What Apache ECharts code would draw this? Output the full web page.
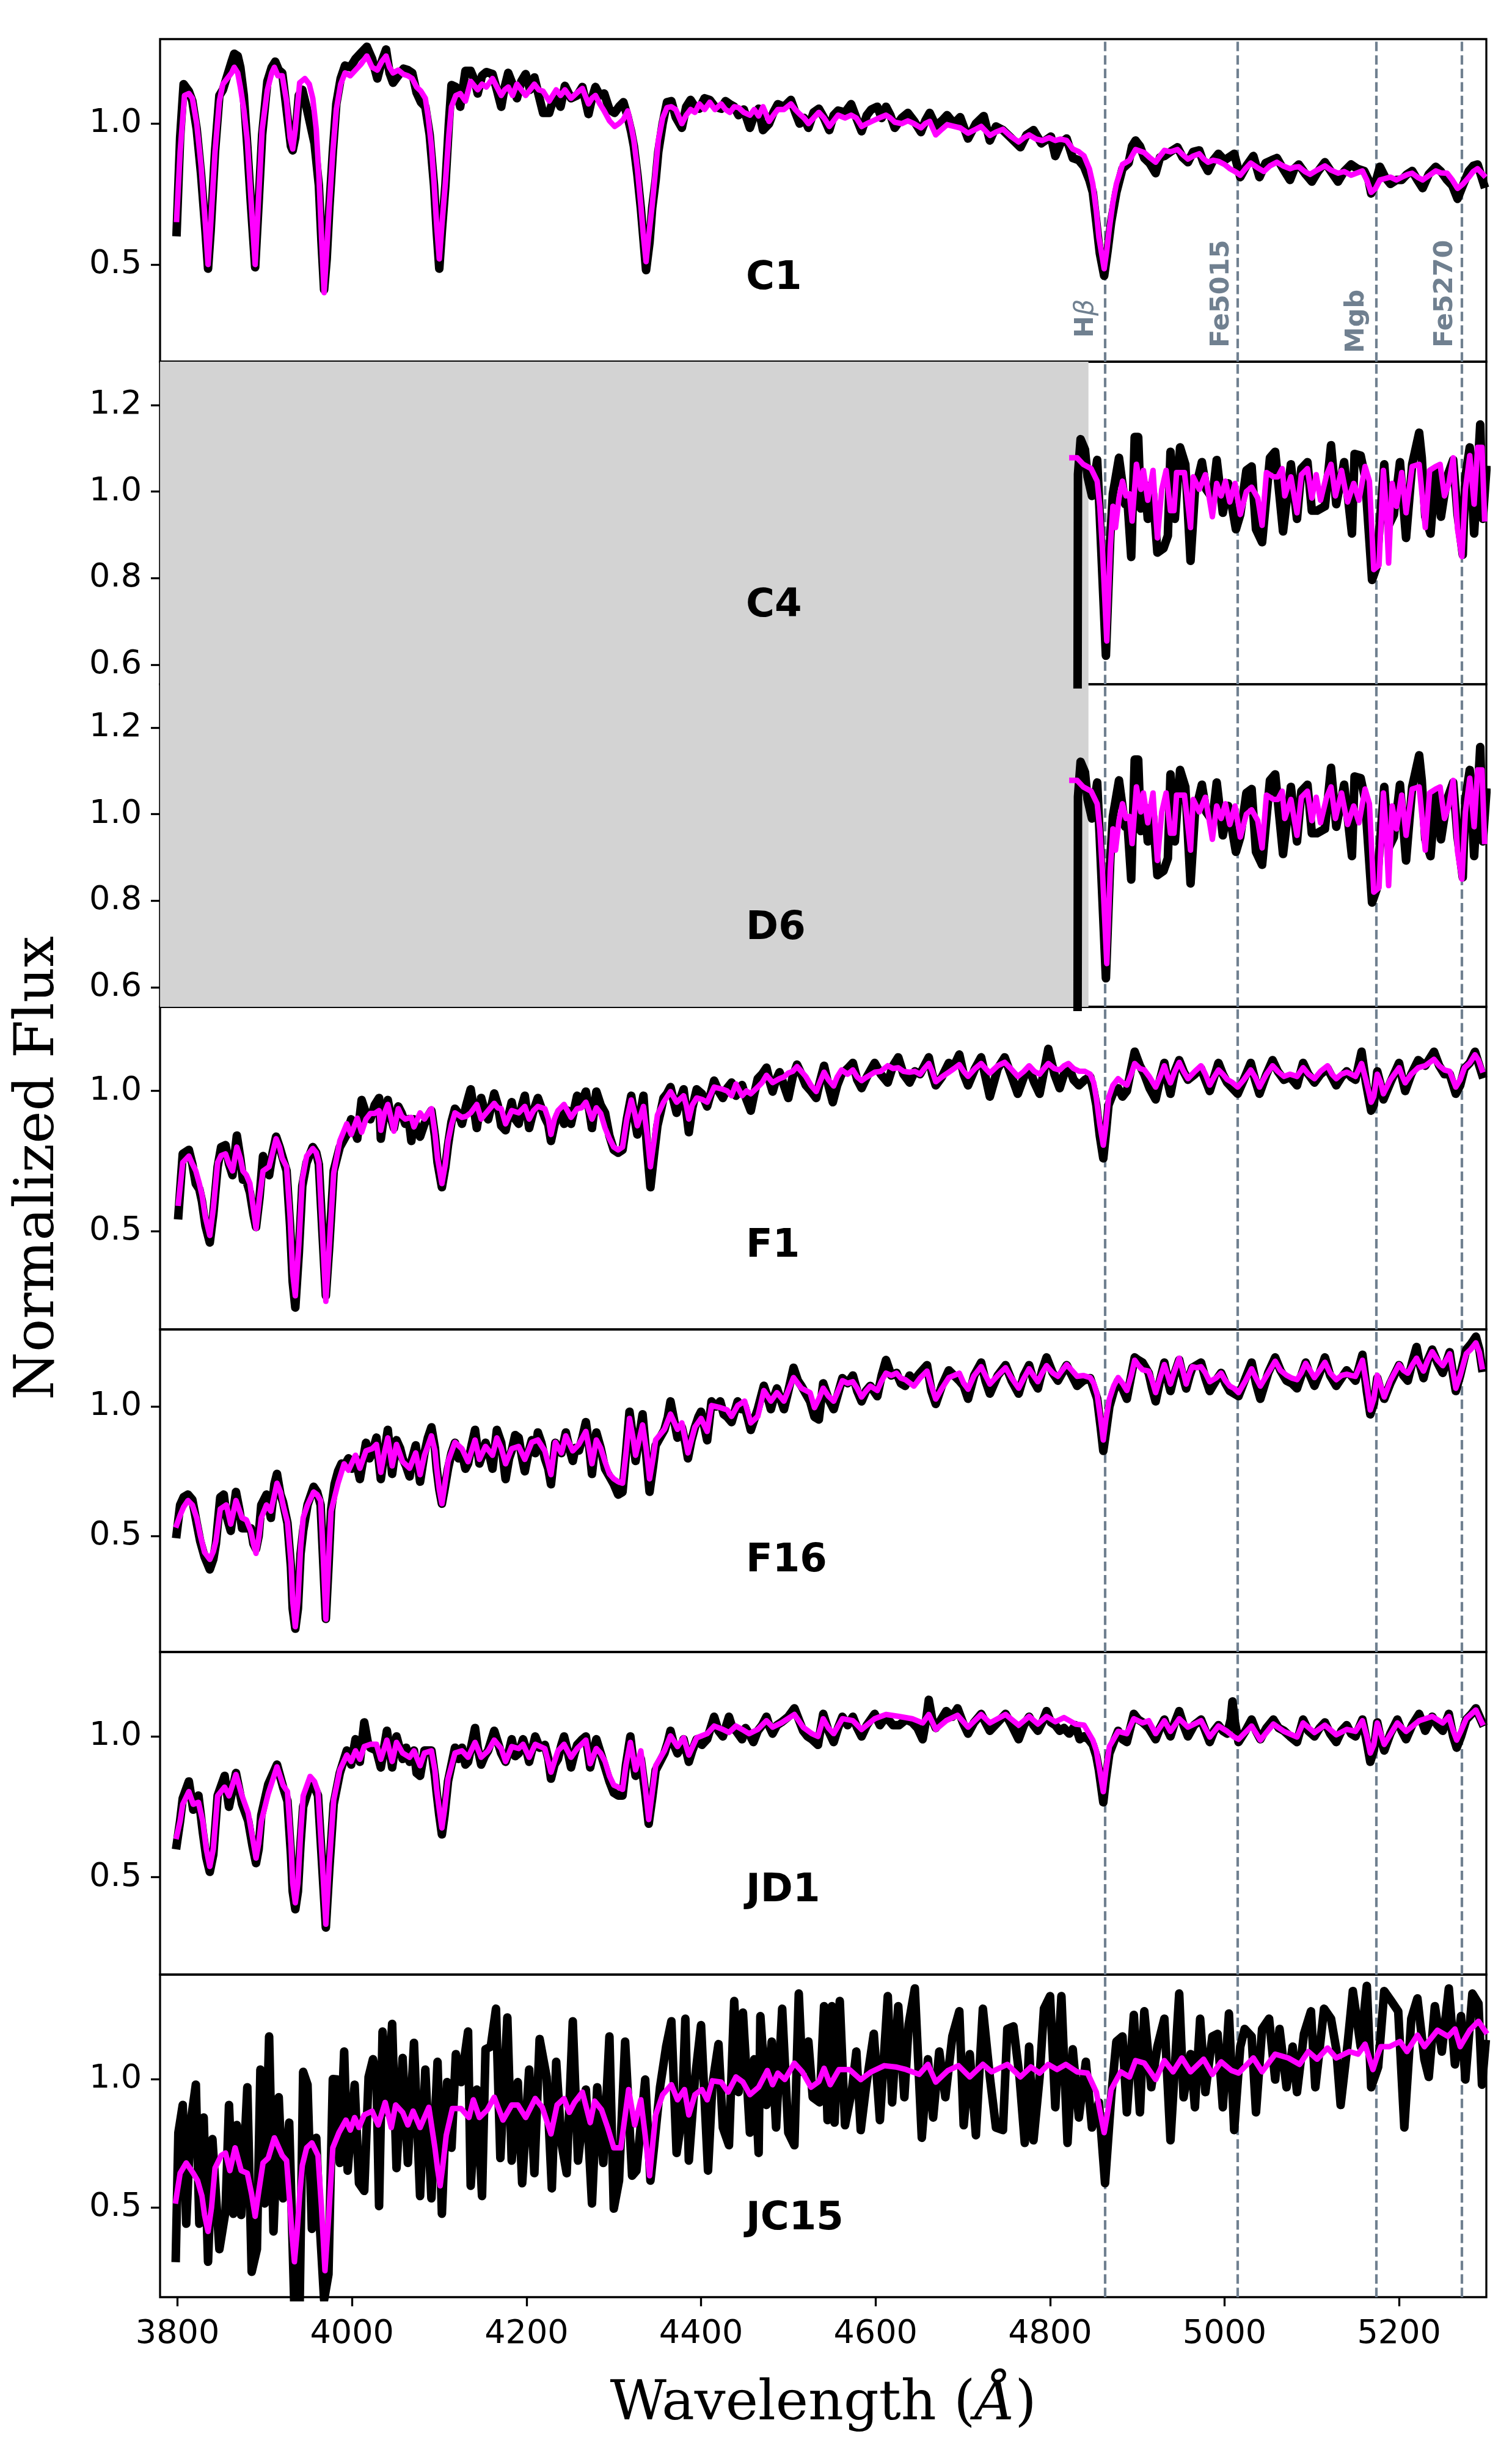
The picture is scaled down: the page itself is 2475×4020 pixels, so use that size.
<!DOCTYPE html>
<html>
<head>
<meta charset="utf-8">
<title>Spectral fits</title>
<script src="https://cdn.jsdelivr.net/npm/echarts@6.0.0/dist/echarts.min.js"></script>
<style>
  html, body { margin: 0; padding: 0; background: #fff; }
  #chart { width: 2475px; height: 4020px; }
</style>
</head>
<body>
<div id="chart"></div>
<script>
// wavelength (A) / normalized flux pairs
// black = observed spectrum, magenta = model fit
const c1Obs = [[3799,0.615],[3803,0.95],[3807,1.14],[3813,1.115],[3817,1.08],[3822,0.98],[3827,0.82],[3832,0.62],[3835,0.485],[3838,0.62],[3843,0.90],[3848,1.10],[3852,1.12],[3857,1.17],[3862,1.22],[3865,1.248],[3869,1.24],[3872,1.20],[3876,1.10],[3880,0.92],[3884,0.72],[3889,0.49],[3893,0.72],[3897,0.96],[3903,1.15],[3908,1.20],[3912,1.22],[3916,1.19],[3920,1.18],[3925,1.05],[3930,0.92],[3932,0.905],[3935,0.95],[3939,1.10],[3943,1.12],[3947,1.07],[3952,1.00],[3957,0.93],[3962,0.78],[3965,0.58],[3968,0.41],[3971,0.52],[3974,0.70],[3978,0.90],[3982,1.07],[3987,1.16],[3992,1.206],[3998,1.20],[4004,1.23],[4010,1.25],[4017,1.273],[4023,1.23],[4029,1.16],[4034,1.22],[4039,1.263],[4043,1.18],[4047,1.145],[4053,1.17],[4059,1.195],[4064,1.19],[4069,1.18],[4074,1.11],[4079,1.076],[4084,1.06],[4089,0.96],[4094,0.78],[4097,0.62],[4100,0.485],[4103,0.62],[4107,0.78],[4111,1.00],[4114,1.137],[4119,1.13],[4124,1.06],[4130,1.187],[4136,1.187],[4141,1.15],[4144,1.107],[4149,1.17],[4154,1.183],[4161,1.176],[4166,1.12],[4171,1.06],[4175,1.13],[4179,1.18],[4184,1.14],[4189,1.09],[4194,1.15],[4199,1.176],[4204,1.12],[4209,1.164],[4214,1.10],[4219,1.038],[4226,1.038],[4230,1.08],[4234,1.09],[4239,1.06],[4244,1.134],[4251,1.09],[4258,1.10],[4264,1.13],[4271,1.034],[4275,1.09],[4279,1.13],[4284,1.10],[4289,1.107],[4295,1.05],[4301,1.038],[4306,1.06],[4311,1.076],[4316,1.023],[4320,0.97],[4323,0.92],[4327,0.82],[4331,0.70],[4337,0.48],[4341,0.58],[4344,0.70],[4348,0.80],[4351,0.90],[4356,1.00],[4361,1.076],[4366,1.08],[4371,1.023],[4378,0.985],[4383,1.06],[4388,1.084],[4393,1.06],[4398,1.053],[4404,1.09],[4410,1.084],[4416,1.06],[4423,1.053],[4428,1.08],[4433,1.069],[4438,1.06],[4443,1.03],[4449,1.05],[4456,0.985],[4461,1.03],[4466,1.053],[4471,0.977],[4478,1.0],[4483,1.04],[4488,1.069],[4495,1.06],[4503,1.084],[4508,1.04],[4513,1.0],[4518,1.02],[4523,0.985],[4529,1.04],[4535,1.053],[4541,1.02],[4547,0.977],[4552,1.03],[4557,1.046],[4565,1.04],[4572,1.069],[4578,1.02],[4584,0.973],[4590,1.03],[4595,1.05],[4602,1.06],[4607,1.02],[4612,1.06],[4617,1.03],[4622,0.985],[4630,1.02],[4637,1.038],[4644,1.01],[4652,0.97],[4657,1.01],[4662,1.038],[4669,0.992],[4676,1.01],[4682,1.03],[4690,1.00],[4697,1.023],[4706,0.947],[4715,1.00],[4724,1.027],[4731,0.94],[4738,0.99],[4746,0.977],[4755,0.95],[4766,0.916],[4773,0.96],[4781,0.977],[4790,0.93],[4801,0.954],[4806,0.885],[4812,0.93],[4819,0.947],[4826,0.878],[4833,0.87],[4839,0.847],[4845,0.80],[4849,0.756],[4853,0.65],[4857,0.54],[4862,0.46],[4866,0.55],[4870,0.65],[4876,0.756],[4883,0.84],[4890,0.86],[4894,0.92],[4898,0.94],[4903,0.92],[4908,0.878],[4914,0.86],[4921,0.824],[4926,0.88],[4931,0.885],[4938,0.90],[4946,0.916],[4952,0.88],[4958,0.863],[4964,0.90],[4971,0.905],[4976,0.86],[4981,0.832],[4987,0.87],[4993,0.893],[5000,0.87],[5011,0.893],[5018,0.81],[5025,0.85],[5033,0.885],[5040,0.81],[5047,0.86],[5054,0.87],[5060,0.878],[5067,0.84],[5075,0.80],[5080,0.84],[5085,0.855],[5093,0.82],[5100,0.794],[5107,0.83],[5115,0.863],[5122,0.83],[5130,0.794],[5137,0.83],[5145,0.855],[5152,0.84],[5160,0.832],[5165,0.80],[5168,0.752],[5172,0.78],[5178,0.847],[5184,0.81],[5190,0.786],[5197,0.80],[5203,0.80],[5209,0.82],[5215,0.832],[5221,0.80],[5227,0.771],[5234,0.82],[5242,0.847],[5248,0.83],[5255,0.80],[5261,0.78],[5267,0.733],[5273,0.78],[5280,0.832],[5285,0.85],[5290,0.855],[5297,0.786]];
const c1Model = [[3799,0.66],[3803,0.90],[3808,1.10],[3813,1.107],[3817,1.09],[3822,1.0],[3827,0.85],[3832,0.64],[3835,0.50],[3838,0.64],[3843,0.90],[3848,1.08],[3852,1.14],[3857,1.16],[3862,1.18],[3865,1.20],[3869,1.18],[3872,1.13],[3876,1.05],[3880,0.94],[3884,0.74],[3889,0.50],[3893,0.74],[3897,0.98],[3903,1.12],[3908,1.18],[3911,1.20],[3915,1.17],[3920,1.17],[3925,1.08],[3929,0.95],[3932,0.91],[3935,0.98],[3940,1.145],[3946,1.16],[3951,1.14],[3955,1.09],[3959,0.98],[3962,0.82],[3965,0.60],[3968,0.40],[3971,0.55],[3974,0.71],[3978,0.90],[3982,1.05],[3987,1.14],[3992,1.18],[3998,1.17],[4004,1.19],[4010,1.21],[4017,1.24],[4023,1.20],[4029,1.19],[4034,1.22],[4039,1.24],[4043,1.20],[4047,1.18],[4053,1.19],[4059,1.175],[4064,1.17],[4069,1.16],[4074,1.13],[4079,1.115],[4084,1.09],[4087,1.03],[4091,0.92],[4094,0.79],[4097,0.64],[4100,0.52],[4103,0.64],[4107,0.79],[4111,0.96],[4114,1.06],[4119,1.10],[4124,1.107],[4130,1.08],[4136,1.15],[4144,1.12],[4149,1.14],[4154,1.13],[4161,1.16],[4166,1.13],[4171,1.10],[4175,1.12],[4179,1.13],[4184,1.10],[4189,1.14],[4194,1.12],[4199,1.10],[4204,1.12],[4209,1.14],[4214,1.12],[4219,1.115],[4226,1.08],[4230,1.10],[4234,1.12],[4239,1.10],[4244,1.12],[4251,1.09],[4258,1.11],[4264,1.125],[4271,1.07],[4275,1.09],[4279,1.10],[4284,1.07],[4289,1.045],[4295,1.01],[4301,0.99],[4306,1.00],[4311,1.015],[4316,1.045],[4320,0.99],[4323,0.94],[4327,0.84],[4331,0.71],[4334,0.60],[4337,0.51],[4340,0.60],[4344,0.71],[4348,0.84],[4351,0.94],[4356,1.02],[4361,1.057],[4366,1.06],[4371,1.05],[4378,1.0],[4383,1.03],[4388,1.05],[4393,1.04],[4398,1.07],[4404,1.05],[4410,1.076],[4416,1.05],[4423,1.07],[4428,1.05],[4433,1.04],[4438,1.06],[4443,1.057],[4449,1.04],[4456,1.03],[4461,1.05],[4466,1.027],[4471,1.06],[4478,1.008],[4483,1.03],[4488,1.05],[4495,1.05],[4503,1.07],[4508,1.05],[4513,1.034],[4518,1.02],[4523,1.0],[4529,1.02],[4535,1.04],[4541,1.02],[4547,0.99],[4552,1.01],[4557,1.03],[4565,1.02],[4572,1.03],[4578,1.02],[4584,0.99],[4590,1.00],[4597,1.01],[4604,1.02],[4612,1.03],[4617,1.02],[4622,1.005],[4630,1.00],[4637,1.01],[4644,1.00],[4652,0.985],[4657,1.00],[4662,1.008],[4669,0.96],[4676,0.98],[4682,0.996],[4690,0.99],[4697,0.985],[4706,0.966],[4715,0.98],[4721,0.99],[4731,0.958],[4738,0.97],[4746,0.98],[4755,0.955],[4764,0.935],[4770,0.95],[4776,0.96],[4784,0.945],[4791,0.94],[4799,0.95],[4806,0.94],[4812,0.945],[4819,0.94],[4826,0.91],[4833,0.90],[4839,0.885],[4845,0.84],[4849,0.786],[4853,0.69],[4856,0.595],[4862,0.485],[4865,0.55],[4868,0.63],[4872,0.72],[4876,0.786],[4883,0.855],[4891,0.87],[4898,0.908],[4908,0.897],[4914,0.88],[4921,0.863],[4926,0.885],[4931,0.905],[4938,0.90],[4946,0.908],[4952,0.89],[4958,0.874],[4964,0.885],[4971,0.893],[4976,0.875],[4981,0.863],[4987,0.87],[4993,0.866],[5000,0.855],[5006,0.84],[5012,0.83],[5018,0.817],[5024,0.84],[5030,0.86],[5037,0.845],[5045,0.83],[5052,0.85],[5060,0.863],[5067,0.85],[5075,0.84],[5080,0.845],[5085,0.847],[5092,0.83],[5098,0.82],[5106,0.835],[5115,0.85],[5122,0.835],[5130,0.824],[5137,0.83],[5145,0.817],[5152,0.825],[5158,0.832],[5163,0.80],[5168,0.756],[5173,0.77],[5178,0.80],[5184,0.805],[5190,0.81],[5197,0.80],[5205,0.813],[5210,0.82],[5215,0.824],[5221,0.81],[5227,0.80],[5234,0.815],[5242,0.832],[5248,0.825],[5255,0.824],[5261,0.80],[5267,0.77],[5273,0.785],[5280,0.81],[5285,0.83],[5290,0.84],[5297,0.817]];

// C4 has no data blueward of ~4830 A (flux 0, under the grey mask)
const c4Obs = [[3780,0],[4831,0],[4832,1.04],[4835,1.121],[4840,1.097],[4843,1.034],[4848,0.99],[4854,1.073],[4857,0.942],[4864,0.621],[4869,0.893],[4872,0.995],[4879,1.078],[4886,0.971],[4889,0.971],[4893,0.849],[4897,1.126],[4901,1.126],[4904,0.961],[4909,1.015],[4912,0.937],[4918,0.995],[4923,0.859],[4930,0.869],[4935,0.898],[4938,1.092],[4943,0.937],[4949,1.102],[4955,1.063],[4961,0.84],[4966,1.0],[4974,1.068],[4979,1.005],[4986,0.985],[4991,1.073],[4998,0.951],[5004,1.019],[5013,0.913],[5018,0.947],[5025,1.049],[5031,1.058],[5036,0.913],[5043,0.883],[5052,1.078],[5058,1.092],[5067,0.908],[5076,1.063],[5083,0.937],[5088,1.053],[5095,1.068],[5100,0.956],[5106,0.956],[5115,0.966],[5122,1.107],[5128,0.971],[5137,1.068],[5146,0.903],[5149,1.087],[5156,1.083],[5161,1.034],[5169,0.796],[5174,0.825],[5183,1.063],[5188,0.922],[5194,0.947],[5201,1.068],[5208,0.893],[5215,1.063],[5223,1.136],[5226,1.078],[5230,0.942],[5236,0.903],[5242,1.053],[5248,0.942],[5255,1.034],[5262,1.073],[5267,0.947],[5273,0.854],[5276,1.034],[5281,1.102],[5286,0.903],[5293,1.155],[5296,0.937],[5300,1.05]];
const c4Model = [[4825,1.078],[4831,1.078],[4838,1.063],[4847,1.053],[4854,1.024],[4857,0.966],[4860,0.869],[4865,0.655],[4869,0.869],[4872,0.966],[4875,0.917],[4879,0.985],[4883,1.024],[4887,0.99],[4891,0.995],[4894,0.932],[4899,1.063],[4904,1.005],[4907,1.049],[4912,0.98],[4918,1.049],[4923,0.893],[4928,1.005],[4933,1.049],[4938,0.956],[4942,0.956],[4945,1.044],[4954,1.044],[4961,0.917],[4964,1.034],[4971,1.005],[4978,1.039],[4986,0.942],[4991,1.019],[4996,0.99],[5001,1.024],[5006,0.976],[5012,1.019],[5018,0.947],[5025,1.0],[5031,1.01],[5038,0.985],[5043,0.922],[5048,1.044],[5056,1.034],[5061,1.034],[5066,1.053],[5069,0.99],[5076,1.034],[5083,0.951],[5088,1.039],[5095,1.053],[5100,0.985],[5105,1.039],[5110,0.98],[5117,1.039],[5122,1.063],[5127,0.99],[5134,1.049],[5141,0.976],[5148,1.019],[5154,0.98],[5161,1.058],[5166,1.024],[5171,0.82],[5177,0.83],[5182,1.049],[5185,0.966],[5188,0.835],[5192,1.019],[5197,0.966],[5203,1.044],[5208,0.951],[5215,1.058],[5223,1.063],[5230,0.917],[5235,1.049],[5242,1.058],[5247,1.063],[5252,0.99],[5257,1.019],[5262,1.078],[5267,0.913],[5272,0.85],[5276,1.005],[5281,1.083],[5286,0.971],[5290,1.102],[5295,1.102],[5298,0.937]];
// D6 shows the same traces as C4 in the source figure
const d6Obs = c4Obs;
const d6Model = c4Model;

const f1Obs = [[3801,0.557],[3806,0.776],[3813,0.79],[3817,0.74],[3821,0.669],[3825,0.65],[3828,0.607],[3832,0.52],[3837,0.46],[3841,0.56],[3846,0.73],[3850,0.80],[3855,0.807],[3859,0.74],[3863,0.70],[3868,0.841],[3872,0.76],[3875,0.684],[3879,0.68],[3883,0.638],[3887,0.56],[3890,0.515],[3894,0.62],[3898,0.768],[3905,0.70],[3909,0.78],[3913,0.837],[3917,0.80],[3920,0.768],[3925,0.715],[3929,0.52],[3932,0.32],[3935,0.228],[3939,0.42],[3943,0.661],[3948,0.745],[3955,0.80],[3959,0.78],[3962,0.738],[3966,0.50],[3970,0.27],[3974,0.45],[3979,0.715],[3986,0.80],[3994,0.845],[3999,0.899],[4006,0.83],[4011,0.968],[4016,0.92],[4021,0.899],[4026,0.95],[4031,0.975],[4033,0.83],[4037,0.92],[4041,0.968],[4045,0.90],[4048,0.868],[4053,0.945],[4057,0.92],[4061,0.883],[4065,0.90],[4068,0.822],[4071,0.899],[4078,0.837],[4083,0.883],[4087,0.91],[4091,0.93],[4095,0.84],[4098,0.745],[4103,0.657],[4107,0.73],[4110,0.807],[4114,0.89],[4118,0.937],[4122,0.92],[4126,0.883],[4131,0.95],[4136,1.006],[4140,0.93],[4143,0.868],[4148,0.975],[4152,0.93],[4156,0.899],[4160,0.95],[4163,0.991],[4167,0.95],[4171,0.876],[4176,0.86],[4180,0.92],[4183,0.96],[4187,0.90],[4191,0.883],[4195,0.95],[4198,0.983],[4203,0.868],[4208,0.93],[4213,0.975],[4217,0.94],[4221,0.906],[4225,0.88],[4228,0.822],[4232,0.88],[4236,0.914],[4240,0.93],[4243,0.883],[4247,0.93],[4251,0.883],[4255,0.94],[4258,0.983],[4263,0.96],[4268,0.998],[4272,0.93],[4275,0.868],[4280,0.998],[4285,0.95],[4290,0.922],[4295,0.84],[4300,0.79],[4305,0.78],[4310,0.79],[4315,0.90],[4320,0.983],[4324,0.90],[4327,0.845],[4331,0.93],[4334,0.983],[4338,0.80],[4342,0.657],[4346,0.77],[4350,0.876],[4354,0.93],[4357,0.975],[4361,0.99],[4365,1.014],[4369,0.96],[4372,0.922],[4376,0.97],[4380,1.006],[4383,0.93],[4386,0.853],[4390,0.94],[4395,1.006],[4401,0.99],[4407,0.945],[4411,0.99],[4415,1.037],[4420,1.00],[4425,0.975],[4430,1.01],[4435,1.03],[4440,0.983],[4447,1.021],[4452,0.97],[4457,0.93],[4461,0.99],[4465,1.044],[4470,1.06],[4475,1.083],[4479,1.03],[4482,0.998],[4486,1.04],[4490,1.067],[4495,1.02],[4500,0.975],[4505,1.05],[4510,1.094],[4515,1.06],[4520,1.021],[4526,1.00],[4532,0.975],[4536,1.03],[4541,1.09],[4546,1.02],[4551,0.96],[4556,1.02],[4561,1.06],[4568,1.08],[4574,1.10],[4579,1.04],[4584,1.01],[4590,1.05],[4599,1.10],[4606,1.06],[4614,1.03],[4620,1.09],[4626,1.12],[4632,1.06],[4639,1.03],[4645,1.07],[4651,1.06],[4656,1.09],[4661,1.12],[4665,1.06],[4669,1.02],[4676,1.05],[4684,1.10],[4690,1.09],[4696,1.13],[4701,1.06],[4706,1.02],[4714,1.08],[4721,1.12],[4726,1.05],[4731,0.98],[4740,1.08],[4748,1.12],[4755,1.06],[4763,0.99],[4770,1.05],[4776,1.08],[4782,1.03],[4788,0.99],[4793,1.07],[4798,1.15],[4805,1.06],[4811,1.01],[4816,1.06],[4821,1.09],[4827,1.04],[4833,1.02],[4840,1.04],[4846,1.05],[4850,1.00],[4853,0.95],[4857,0.84],[4861,0.76],[4864,0.85],[4867,0.95],[4872,0.99],[4878,1.01],[4883,0.98],[4888,1.00],[4893,1.08],[4897,1.14],[4903,1.09],[4908,1.06],[4914,1.01],[4921,0.97],[4926,1.04],[4931,1.10],[4935,1.03],[4938,0.99],[4943,1.07],[4948,1.11],[4953,1.07],[4958,1.04],[4966,1.06],[4973,1.08],[4978,1.04],[4983,1.00],[4988,1.05],[4993,1.10],[4998,1.06],[5003,1.03],[5009,1.01],[5015,0.99],[5022,1.04],[5030,1.10],[5035,1.04],[5040,0.99],[5048,1.06],[5055,1.11],[5061,1.07],[5068,1.04],[5075,1.05],[5083,1.02],[5090,1.10],[5096,1.06],[5103,1.03],[5110,1.06],[5118,1.08],[5123,1.05],[5128,1.02],[5134,1.05],[5140,1.07],[5145,1.05],[5150,1.04],[5157,1.14],[5162,1.03],[5168,0.93],[5171,0.95],[5175,1.07],[5179,1.02],[5182,0.97],[5190,1.03],[5200,1.10],[5204,1.04],[5207,1.00],[5214,1.06],[5222,1.11],[5230,1.09],[5240,1.14],[5246,1.09],[5252,1.06],[5258,1.06],[5265,0.99],[5270,1.02],[5275,1.08],[5281,1.10],[5287,1.14],[5291,1.10],[5295,1.06]];
const f1Model = [[3801,0.60],[3806,0.745],[3813,0.768],[3817,0.74],[3821,0.715],[3825,0.67],[3828,0.63],[3832,0.55],[3837,0.485],[3841,0.58],[3846,0.745],[3850,0.77],[3855,0.776],[3859,0.74],[3863,0.715],[3868,0.80],[3872,0.76],[3875,0.715],[3879,0.70],[3883,0.67],[3887,0.58],[3890,0.51],[3894,0.62],[3898,0.715],[3905,0.73],[3909,0.78],[3913,0.83],[3917,0.80],[3920,0.76],[3925,0.73],[3929,0.55],[3932,0.35],[3935,0.27],[3939,0.45],[3943,0.684],[3948,0.768],[3955,0.795],[3959,0.78],[3962,0.745],[3966,0.50],[3970,0.25],[3974,0.45],[3979,0.707],[3986,0.822],[3994,0.883],[3999,0.845],[4006,0.903],[4011,0.853],[4016,0.90],[4021,0.92],[4026,0.92],[4031,0.93],[4033,0.86],[4037,0.92],[4041,0.952],[4045,0.90],[4048,0.857],[4053,0.937],[4057,0.91],[4061,0.90],[4068,0.906],[4071,0.872],[4078,0.922],[4083,0.90],[4087,0.92],[4091,0.937],[4095,0.85],[4098,0.76],[4103,0.67],[4107,0.74],[4110,0.822],[4114,0.88],[4118,0.922],[4126,0.906],[4131,0.91],[4136,0.922],[4143,0.952],[4148,0.90],[4156,0.93],[4163,0.956],[4167,0.94],[4171,0.937],[4176,0.883],[4183,0.93],[4191,0.922],[4198,0.945],[4203,0.90],[4208,0.93],[4213,0.945],[4221,0.937],[4225,0.90],[4228,0.845],[4232,0.90],[4236,0.93],[4243,0.952],[4251,0.906],[4258,0.937],[4263,0.94],[4268,0.96],[4275,0.90],[4280,0.94],[4285,0.92],[4290,0.868],[4295,0.83],[4300,0.80],[4305,0.79],[4310,0.80],[4315,0.90],[4320,0.968],[4324,0.92],[4327,0.876],[4334,0.945],[4338,0.85],[4342,0.73],[4346,0.82],[4350,0.914],[4357,0.96],[4365,0.998],[4372,0.96],[4380,0.983],[4383,0.95],[4386,0.90],[4390,0.95],[4395,0.975],[4401,0.97],[4407,0.96],[4415,1.014],[4425,1.006],[4430,1.00],[4435,0.983],[4440,1.025],[4447,0.983],[4452,1.00],[4457,0.99],[4465,1.014],[4470,1.03],[4475,1.056],[4482,1.03],[4490,1.044],[4495,1.05],[4500,1.064],[4505,1.07],[4510,1.087],[4515,1.07],[4520,1.052],[4526,1.02],[4532,0.998],[4536,1.03],[4541,1.067],[4546,1.04],[4552,1.018],[4556,1.05],[4561,1.075],[4568,1.06],[4574,1.075],[4579,1.05],[4584,1.037],[4590,1.05],[4599,1.067],[4606,1.07],[4614,1.09],[4620,1.08],[4626,1.083],[4632,1.07],[4639,1.067],[4645,1.07],[4651,1.06],[4656,1.08],[4661,1.098],[4665,1.07],[4669,1.033],[4676,1.05],[4684,1.067],[4690,1.08],[4696,1.094],[4701,1.07],[4706,1.052],[4714,1.08],[4721,1.098],[4726,1.08],[4731,1.064],[4740,1.09],[4748,1.102],[4755,1.08],[4763,1.052],[4770,1.07],[4776,1.09],[4782,1.07],[4788,1.06],[4793,1.08],[4798,1.098],[4805,1.08],[4811,1.075],[4816,1.09],[4821,1.098],[4827,1.08],[4833,1.071],[4840,1.07],[4846,1.06],[4850,1.03],[4853,0.975],[4857,0.88],[4861,0.807],[4864,0.88],[4867,0.975],[4872,1.02],[4878,1.044],[4883,1.03],[4888,1.021],[4893,1.06],[4897,1.098],[4903,1.08],[4908,1.075],[4914,1.05],[4921,1.014],[4926,1.05],[4931,1.09],[4935,1.05],[4938,1.029],[4943,1.07],[4948,1.102],[4953,1.07],[4958,1.044],[4966,1.07],[4973,1.09],[4978,1.06],[4983,1.021],[4988,1.05],[4993,1.075],[4998,1.06],[5003,1.041],[5009,1.03],[5015,1.014],[5022,1.04],[5030,1.075],[5035,1.05],[5040,1.014],[5048,1.06],[5055,1.09],[5061,1.07],[5068,1.052],[5075,1.06],[5083,1.052],[5090,1.083],[5096,1.06],[5103,1.044],[5110,1.07],[5118,1.09],[5123,1.06],[5128,1.044],[5134,1.06],[5140,1.067],[5145,1.06],[5150,1.052],[5157,1.098],[5162,1.04],[5168,0.96],[5171,0.98],[5175,1.06],[5179,1.03],[5182,0.99],[5190,1.04],[5200,1.083],[5204,1.05],[5207,1.029],[5214,1.06],[5222,1.083],[5230,1.09],[5240,1.113],[5246,1.09],[5252,1.075],[5258,1.07],[5265,1.014],[5270,1.04],[5275,1.083],[5281,1.10],[5287,1.129],[5291,1.11],[5295,1.075]];

const f16Obs = [[3799,0.508],[3803,0.62],[3807,0.65],[3812,0.66],[3817,0.64],[3822,0.55],[3826,0.48],[3831,0.42],[3837,0.371],[3841,0.41],[3844,0.47],[3849,0.65],[3853,0.66],[3856,0.58],[3861,0.52],[3867,0.67],[3871,0.60],[3874,0.53],[3879,0.53],[3884,0.53],[3887,0.47],[3890,0.45],[3893,0.50],[3896,0.62],[3902,0.66],[3907,0.57],[3911,0.70],[3914,0.74],[3918,0.66],[3921,0.63],[3926,0.55],[3930,0.38],[3932,0.22],[3935,0.142],[3938,0.22],[3941,0.43],[3944,0.52],[3949,0.62],[3956,0.69],[3960,0.67],[3964,0.62],[3967,0.40],[3970,0.18],[3973,0.38],[3976,0.60],[3980,0.70],[3984,0.75],[3988,0.78],[3991,0.77],[3996,0.80],[4000,0.76],[4004,0.80],[4009,0.72],[4013,0.80],[4016,0.86],[4020,0.80],[4023,0.82],[4028,0.88],[4033,0.72],[4037,0.82],[4041,0.91],[4046,0.74],[4051,0.87],[4055,0.84],[4058,0.80],[4062,0.77],[4066,0.73],[4069,0.80],[4073,0.85],[4078,0.71],[4083,0.82],[4087,0.88],[4091,0.92],[4095,0.84],[4097,0.76],[4100,0.68],[4103,0.625],[4106,0.68],[4110,0.76],[4114,0.82],[4118,0.86],[4122,0.80],[4126,0.82],[4130,0.76],[4133,0.78],[4137,0.85],[4141,0.91],[4146,0.78],[4150,0.82],[4153,0.86],[4157,0.82],[4161,0.76],[4166,0.91],[4171,0.86],[4176,0.72],[4180,0.80],[4183,0.83],[4187,0.89],[4191,0.88],[4195,0.80],[4198,0.75],[4202,0.82],[4206,0.87],[4210,0.82],[4213,0.90],[4217,0.86],[4221,0.80],[4225,0.76],[4228,0.70],[4233,0.86],[4237,0.83],[4240,0.82],[4245,0.90],[4249,0.84],[4253,0.79],[4256,0.84],[4260,0.83],[4264,0.88],[4268,0.94],[4272,0.84],[4275,0.74],[4280,0.90],[4285,0.84],[4290,0.76],[4295,0.73],[4300,0.70],[4305,0.66],[4310,0.67],[4314,0.82],[4318,0.98],[4322,0.88],[4325,0.79],[4329,0.88],[4333,0.97],[4337,0.82],[4341,0.671],[4345,0.77],[4348,0.85],[4353,0.88],[4358,0.91],[4362,0.96],[4365,1.02],[4369,0.95],[4373,0.88],[4378,0.92],[4382,0.86],[4385,0.80],[4389,0.87],[4393,0.92],[4397,0.96],[4400,0.98],[4404,0.92],[4407,0.87],[4412,1.02],[4417,1.00],[4422,1.02],[4426,0.97],[4430,0.96],[4435,0.94],[4442,1.02],[4446,0.99],[4450,1.00],[4454,0.95],[4457,0.91],[4461,0.95],[4465,0.99],[4472,1.08],[4476,1.04],[4480,0.99],[4484,1.04],[4487,1.07],[4491,1.03],[4495,0.99],[4500,1.06],[4506,1.15],[4511,1.10],[4515,1.08],[4520,1.05],[4525,1.02],[4530,0.96],[4535,0.95],[4540,1.09],[4546,1.03],[4552,0.99],[4557,1.05],[4562,1.11],[4568,1.09],[4574,1.12],[4579,1.06],[4584,1.02],[4589,1.06],[4594,1.08],[4602,1.04],[4607,1.12],[4612,1.18],[4618,1.12],[4624,1.13],[4629,1.09],[4634,1.08],[4639,1.12],[4644,1.10],[4651,1.13],[4659,1.16],[4664,1.06],[4669,1.01],[4676,1.08],[4684,1.14],[4690,1.12],[4696,1.10],[4701,1.08],[4706,1.03],[4713,1.12],[4721,1.17],[4726,1.10],[4731,1.05],[4740,1.12],[4749,1.16],[4756,1.10],[4764,1.05],[4770,1.12],[4776,1.16],[4781,1.10],[4786,1.07],[4791,1.14],[4796,1.19],[4803,1.13],[4809,1.10],[4814,1.13],[4819,1.16],[4825,1.12],[4831,1.08],[4838,1.10],[4846,1.11],[4850,1.07],[4854,1.03],[4858,0.92],[4861,0.829],[4864,0.90],[4868,1.00],[4873,1.06],[4878,1.10],[4883,1.07],[4888,1.03],[4893,1.12],[4897,1.19],[4901,1.18],[4906,1.17],[4913,1.13],[4917,1.07],[4921,1.02],[4926,1.10],[4931,1.17],[4935,1.10],[4938,1.06],[4943,1.13],[4948,1.18],[4952,1.12],[4956,1.07],[4960,1.12],[4963,1.15],[4968,1.16],[4973,1.17],[4978,1.11],[4983,1.06],[4990,1.10],[4996,1.13],[5001,1.09],[5006,1.06],[5011,1.05],[5016,1.04],[5024,1.11],[5031,1.17],[5036,1.09],[5041,1.03],[5050,1.13],[5058,1.19],[5064,1.14],[5071,1.10],[5077,1.09],[5083,1.07],[5088,1.12],[5093,1.17],[5098,1.12],[5103,1.08],[5109,1.13],[5115,1.19],[5121,1.12],[5128,1.08],[5134,1.11],[5140,1.14],[5145,1.12],[5150,1.10],[5158,1.20],[5163,1.06],[5167,0.97],[5171,1.01],[5175,1.11],[5179,1.06],[5183,1.03],[5190,1.09],[5200,1.16],[5205,1.12],[5210,1.10],[5215,1.17],[5220,1.23],[5224,1.16],[5228,1.11],[5233,1.18],[5238,1.22],[5244,1.17],[5250,1.13],[5254,1.17],[5258,1.21],[5262,1.12],[5265,1.06],[5270,1.12],[5277,1.22],[5282,1.24],[5288,1.27],[5292,1.22],[5295,1.15]];
const f16Model = [[3799,0.542],[3803,0.58],[3807,0.612],[3812,0.637],[3817,0.62],[3822,0.57],[3826,0.504],[3831,0.437],[3837,0.41],[3841,0.44],[3844,0.48],[3849,0.604],[3856,0.62],[3861,0.546],[3867,0.637],[3874,0.57],[3879,0.562],[3884,0.52],[3887,0.47],[3890,0.433],[3893,0.49],[3896,0.57],[3902,0.62],[3907,0.596],[3914,0.704],[3918,0.67],[3921,0.62],[3926,0.554],[3930,0.40],[3932,0.25],[3935,0.15],[3938,0.25],[3941,0.45],[3944,0.57],[3949,0.62],[3956,0.67],[3960,0.66],[3964,0.637],[3967,0.42],[3970,0.179],[3973,0.40],[3976,0.596],[3984,0.704],[3991,0.779],[3996,0.754],[4004,0.812],[4009,0.762],[4016,0.829],[4023,0.837],[4028,0.854],[4033,0.746],[4037,0.82],[4041,0.879],[4046,0.771],[4051,0.854],[4058,0.787],[4066,0.762],[4073,0.821],[4078,0.737],[4083,0.812],[4091,0.887],[4095,0.83],[4097,0.762],[4100,0.68],[4103,0.625],[4106,0.69],[4110,0.787],[4118,0.862],[4126,0.837],[4133,0.787],[4141,0.871],[4146,0.796],[4153,0.846],[4161,0.812],[4166,0.879],[4171,0.84],[4176,0.779],[4183,0.837],[4191,0.846],[4198,0.796],[4206,0.862],[4213,0.871],[4221,0.829],[4228,0.737],[4233,0.862],[4240,0.821],[4245,0.887],[4253,0.829],[4260,0.854],[4268,0.904],[4275,0.779],[4280,0.871],[4285,0.84],[4290,0.787],[4295,0.74],[4300,0.721],[4305,0.71],[4310,0.704],[4314,0.82],[4318,0.954],[4322,0.88],[4325,0.812],[4333,0.929],[4337,0.84],[4341,0.721],[4345,0.80],[4348,0.871],[4358,0.912],[4365,0.971],[4373,0.912],[4378,0.937],[4385,0.821],[4393,0.921],[4400,0.954],[4407,0.904],[4412,1.004],[4422,0.996],[4430,0.987],[4435,0.962],[4442,1.004],[4450,1.021],[4457,0.937],[4465,0.962],[4472,1.062],[4480,1.021],[4487,1.054],[4495,1.021],[4506,1.112],[4515,1.071],[4525,1.054],[4530,0.996],[4535,1.03],[4540,1.071],[4546,1.04],[4552,1.021],[4557,1.06],[4562,1.10],[4568,1.09],[4574,1.096],[4579,1.07],[4584,1.037],[4589,1.06],[4594,1.079],[4602,1.062],[4607,1.10],[4612,1.129],[4618,1.12],[4624,1.129],[4629,1.11],[4634,1.104],[4644,1.079],[4651,1.11],[4659,1.137],[4664,1.08],[4669,1.029],[4676,1.07],[4684,1.112],[4690,1.12],[4696,1.129],[4701,1.09],[4706,1.067],[4713,1.12],[4721,1.154],[4726,1.12],[4731,1.087],[4740,1.12],[4749,1.15],[4756,1.11],[4764,1.071],[4770,1.11],[4776,1.146],[4781,1.12],[4786,1.096],[4791,1.13],[4796,1.158],[4803,1.13],[4809,1.117],[4814,1.14],[4819,1.162],[4825,1.14],[4831,1.117],[4838,1.12],[4846,1.112],[4850,1.09],[4854,1.046],[4858,0.95],[4861,0.871],[4864,0.95],[4868,1.029],[4873,1.08],[4878,1.112],[4883,1.09],[4888,1.062],[4893,1.12],[4897,1.179],[4901,1.16],[4906,1.142],[4913,1.137],[4917,1.10],[4921,1.054],[4926,1.11],[4931,1.162],[4935,1.12],[4938,1.087],[4943,1.14],[4948,1.187],[4952,1.14],[4956,1.087],[4960,1.13],[4963,1.154],[4968,1.15],[4973,1.154],[4978,1.13],[4983,1.096],[4990,1.11],[4996,1.129],[5001,1.10],[5006,1.079],[5011,1.07],[5016,1.054],[5024,1.10],[5031,1.146],[5036,1.11],[5041,1.079],[5050,1.13],[5058,1.175],[5064,1.14],[5071,1.121],[5077,1.11],[5083,1.104],[5088,1.13],[5093,1.167],[5098,1.14],[5103,1.112],[5109,1.14],[5115,1.171],[5121,1.13],[5128,1.104],[5134,1.12],[5140,1.125],[5145,1.12],[5150,1.117],[5158,1.179],[5163,1.08],[5167,0.987],[5171,1.03],[5175,1.121],[5179,1.08],[5183,1.037],[5190,1.10],[5200,1.162],[5205,1.14],[5210,1.129],[5215,1.16],[5220,1.187],[5224,1.16],[5228,1.137],[5233,1.18],[5238,1.212],[5244,1.18],[5250,1.158],[5254,1.18],[5258,1.204],[5262,1.13],[5265,1.071],[5270,1.12],[5277,1.204],[5282,1.22],[5288,1.246],[5292,1.21],[5295,1.154]];

const jd1Obs = [[3799,0.614],[3803,0.70],[3806,0.78],[3813,0.84],[3818,0.74],[3824,0.79],[3829,0.66],[3833,0.57],[3837,0.519],[3841,0.58],[3846,0.79],[3854,0.86],[3859,0.75],[3867,0.87],[3874,0.76],[3881,0.70],[3886,0.61],[3890,0.55],[3893,0.60],[3896,0.72],[3904,0.83],[3914,0.90],[3921,0.82],[3926,0.77],[3930,0.58],[3932,0.45],[3935,0.386],[3938,0.45],[3941,0.62],[3944,0.75],[3952,0.83],[3957,0.82],[3961,0.79],[3966,0.53],[3970,0.321],[3974,0.53],[3979,0.76],[3986,0.87],[3994,0.95],[3999,0.90],[4004,0.99],[4009,0.91],[4014,1.05],[4018,0.98],[4021,0.96],[4028,0.95],[4033,0.89],[4040,1.02],[4046,0.89],[4051,1.00],[4058,0.92],[4062,0.96],[4066,0.91],[4071,0.95],[4074,0.87],[4078,0.86],[4083,0.95],[4091,0.95],[4095,0.86],[4097,0.80],[4100,0.72],[4103,0.652],[4106,0.72],[4110,0.84],[4118,0.96],[4122,0.92],[4126,0.96],[4130,0.90],[4133,0.91],[4137,0.97],[4141,1.03],[4144,0.96],[4148,0.90],[4152,0.93],[4156,0.95],[4160,0.99],[4163,1.02],[4167,0.98],[4171,0.94],[4176,0.91],[4180,0.95],[4183,0.99],[4187,0.93],[4191,0.94],[4196,0.99],[4200,0.95],[4203,0.91],[4207,0.96],[4210,1.00],[4215,0.96],[4221,0.97],[4225,0.92],[4228,0.85],[4232,0.90],[4236,0.92],[4240,0.97],[4243,1.00],[4247,0.95],[4251,0.89],[4255,0.94],[4258,0.97],[4264,0.99],[4268,1.00],[4273,0.89],[4277,0.95],[4280,0.99],[4285,0.94],[4290,0.89],[4295,0.84],[4300,0.80],[4305,0.79],[4310,0.79],[4314,0.90],[4319,1.00],[4322,0.92],[4325,0.86],[4331,0.92],[4336,0.80],[4340,0.69],[4344,0.78],[4348,0.88],[4353,0.91],[4358,0.94],[4362,0.98],[4365,1.02],[4369,0.97],[4373,0.94],[4377,0.96],[4380,0.99],[4386,0.91],[4390,0.95],[4395,0.99],[4401,0.97],[4407,0.99],[4411,1.03],[4415,1.07],[4420,1.02],[4425,1.00],[4429,1.04],[4432,1.07],[4436,1.03],[4440,1.02],[4447,0.99],[4451,1.03],[4455,1.01],[4460,0.98],[4465,1.02],[4470,1.04],[4475,1.07],[4479,1.03],[4482,1.01],[4487,1.04],[4492,1.05],[4500,1.07],[4507,1.10],[4512,1.06],[4517,1.02],[4522,1.00],[4527,0.99],[4534,0.97],[4540,1.08],[4546,1.02],[4552,0.98],[4557,1.03],[4562,1.07],[4568,1.04],[4574,1.07],[4579,1.03],[4584,1.00],[4590,1.04],[4599,1.08],[4605,1.04],[4612,1.07],[4620,1.04],[4627,1.04],[4635,1.06],[4642,1.05],[4648,1.03],[4654,0.99],[4658,1.06],[4661,1.13],[4665,1.06],[4669,1.03],[4675,1.06],[4681,1.09],[4688,1.07],[4694,1.10],[4700,1.05],[4706,1.01],[4713,1.05],[4721,1.08],[4726,1.05],[4731,1.02],[4740,1.05],[4749,1.08],[4756,1.04],[4764,0.99],[4770,1.04],[4776,1.07],[4781,1.04],[4786,1.02],[4791,1.05],[4796,1.09],[4801,1.05],[4806,1.04],[4811,1.02],[4816,1.03],[4822,1.01],[4829,1.04],[4834,0.99],[4839,1.00],[4844,0.99],[4849,0.97],[4853,0.93],[4856,0.88],[4861,0.766],[4864,0.85],[4868,0.94],[4873,0.98],[4878,1.02],[4883,0.99],[4888,0.98],[4892,1.03],[4896,1.08],[4901,1.06],[4906,1.05],[4913,1.03],[4917,1.01],[4921,0.99],[4926,1.03],[4931,1.06],[4935,1.02],[4938,1.00],[4943,1.05],[4948,1.09],[4953,1.04],[4958,1.00],[4965,1.04],[4973,1.06],[4978,1.02],[4983,0.98],[4988,1.02],[4993,1.04],[4998,1.02],[5003,1.01],[5007,1.06],[5009,1.124],[5012,1.05],[5016,0.98],[5024,1.02],[5031,1.06],[5036,1.02],[5041,0.99],[5048,1.03],[5056,1.06],[5062,1.03],[5068,1.02],[5075,1.00],[5083,0.98],[5090,1.06],[5096,1.02],[5103,1.00],[5109,1.03],[5115,1.05],[5121,1.01],[5128,0.98],[5134,1.02],[5140,1.04],[5145,1.01],[5150,1.00],[5158,1.06],[5163,0.98],[5167,0.91],[5171,0.95],[5175,1.05],[5179,0.99],[5183,0.95],[5190,1.01],[5198,1.06],[5203,1.02],[5208,0.99],[5215,1.04],[5223,1.08],[5230,1.02],[5238,1.07],[5244,1.04],[5250,1.02],[5257,1.08],[5262,1.00],[5266,0.96],[5271,1.00],[5277,1.06],[5283,1.08],[5288,1.10],[5295,1.05]];
const jd1Model = [[3799,0.645],[3803,0.70],[3806,0.759],[3813,0.804],[3818,0.759],[3824,0.766],[3829,0.698],[3833,0.60],[3837,0.538],[3841,0.60],[3846,0.789],[3854,0.82],[3859,0.789],[3867,0.865],[3874,0.789],[3881,0.728],[3886,0.64],[3890,0.568],[3893,0.62],[3896,0.698],[3904,0.797],[3914,0.892],[3921,0.827],[3926,0.804],[3930,0.62],[3932,0.48],[3935,0.409],[3938,0.48],[3941,0.65],[3944,0.789],[3952,0.858],[3957,0.84],[3961,0.804],[3966,0.55],[3970,0.333],[3974,0.55],[3979,0.774],[3986,0.881],[3994,0.934],[3999,0.911],[4004,0.949],[4009,0.919],[4014,0.964],[4021,0.972],[4028,0.972],[4033,0.919],[4040,0.987],[4046,0.911],[4051,0.979],[4058,0.941],[4066,0.926],[4071,0.949],[4078,0.896],[4083,0.941],[4091,0.949],[4095,0.88],[4097,0.812],[4100,0.74],[4103,0.675],[4106,0.74],[4110,0.85],[4118,0.941],[4126,0.949],[4133,0.926],[4141,0.979],[4148,0.926],[4156,0.949],[4163,0.987],[4171,0.957],[4176,0.911],[4183,0.964],[4191,0.957],[4196,0.972],[4203,0.926],[4210,0.972],[4221,0.957],[4228,0.873],[4236,0.949],[4243,0.972],[4251,0.926],[4258,0.957],[4268,0.987],[4273,0.903],[4280,0.957],[4285,0.94],[4290,0.911],[4295,0.86],[4300,0.827],[4305,0.82],[4310,0.812],[4314,0.90],[4319,0.979],[4322,0.93],[4325,0.881],[4331,0.949],[4336,0.82],[4340,0.705],[4344,0.80],[4348,0.896],[4358,0.949],[4365,1.002],[4373,0.964],[4380,0.995],[4386,0.934],[4395,0.995],[4407,1.01],[4415,1.037],[4425,1.025],[4432,1.014],[4440,1.037],[4447,1.025],[4455,1.01],[4465,1.025],[4475,1.056],[4482,1.033],[4492,1.048],[4507,1.078],[4517,1.033],[4527,1.01],[4534,1.00],[4540,1.063],[4546,1.03],[4552,1.01],[4562,1.063],[4574,1.056],[4584,1.025],[4599,1.063],[4612,1.078],[4627,1.071],[4642,1.063],[4654,1.048],[4661,1.078],[4669,1.025],[4681,1.056],[4694,1.075],[4706,1.033],[4721,1.078],[4731,1.048],[4749,1.078],[4764,1.04],[4776,1.071],[4786,1.044],[4796,1.071],[4806,1.052],[4816,1.067],[4829,1.044],[4839,1.04],[4849,0.987],[4853,0.95],[4856,0.896],[4861,0.804],[4864,0.88],[4868,0.964],[4878,1.018],[4888,1.01],[4896,1.063],[4906,1.048],[4913,1.056],[4921,1.01],[4931,1.056],[4938,1.018],[4948,1.063],[4958,1.033],[4973,1.056],[4983,0.998],[4993,1.037],[5003,1.018],[5011,0.998],[5016,0.99],[5031,1.037],[5041,0.987],[5056,1.044],[5068,1.018],[5083,0.998],[5090,1.048],[5103,1.014],[5115,1.04],[5128,1.006],[5140,1.025],[5150,1.018],[5158,1.056],[5163,1.00],[5167,0.941],[5171,0.97],[5175,1.048],[5179,1.01],[5183,0.972],[5198,1.048],[5208,1.018],[5223,1.056],[5238,1.071],[5250,1.048],[5257,1.071],[5262,1.02],[5266,0.987],[5271,1.02],[5277,1.063],[5288,1.094],[5295,1.048]];

const jc15Obs = [[3798,0.303],[3801,0.791],[3806,0.899],[3810,0.436],[3815,0.83],[3821,0.978],[3825,0.436],[3830,0.85],[3835,0.288],[3840,0.766],[3848,0.337],[3855,0.485],[3859,0.899],[3864,0.475],[3868,0.821],[3873,0.47],[3880,0.968],[3885,0.249],[3891,0.337],[3895,1.037],[3900,0.515],[3905,1.166],[3910,0.406],[3916,0.929],[3921,0.535],[3928,0.83],[3934,0.10],[3940,0.12],[3944,1.028],[3949,0.978],[3954,0.416],[3959,0.771],[3963,0.436],[3968,0.14],[3973,0.239],[3978,1.0],[3983,0.998],[3986,0.673],[3991,1.107],[3995,0.643],[4003,0.978],[4008,0.594],[4014,0.564],[4019,1.008],[4024,1.077],[4028,1.008],[4031,0.505],[4035,1.185],[4040,0.87],[4046,1.215],[4051,0.653],[4058,1.082],[4064,0.673],[4071,1.141],[4078,0.544],[4084,1.037],[4091,0.535],[4098,1.067],[4103,0.475],[4109,0.988],[4114,0.732],[4119,1.097],[4125,0.988],[4133,1.185],[4136,0.584],[4143,0.959],[4149,0.544],[4153,1.116],[4159,1.126],[4165,1.274],[4170,0.692],[4178,1.24],[4183,0.682],[4190,0.988],[4195,0.594],[4203,1.037],[4209,0.633],[4215,1.156],[4223,1.008],[4229,0.574],[4234,1.067],[4240,0.751],[4246,0.633],[4253,1.225],[4259,0.682],[4268,0.959],[4275,0.515],[4281,0.968],[4288,0.673],[4295,1.166],[4300,0.495],[4306,0.604],[4313,1.146],[4321,0.623],[4326,0.643],[4336,0.998],[4342,0.604],[4346,0.732],[4353,0.968],[4360,1.126],[4366,1.225],[4372,0.712],[4378,0.85],[4382,1.235],[4386,0.682],[4393,0.998],[4400,1.21],[4408,0.643],[4413,0.978],[4420,1.136],[4425,0.811],[4432,0.742],[4438,1.304],[4443,0.949],[4448,1.259],[4456,0.791],[4461,1.077],[4466,0.712],[4468,1.245],[4475,0.899],[4481,1.146],[4486,0.811],[4493,1.274],[4500,0.791],[4507,0.742],[4512,1.333],[4516,1.028],[4523,1.146],[4528,0.929],[4536,0.909],[4541,1.284],[4545,0.84],[4550,1.284],[4553,0.83],[4559,1.304],[4565,0.82],[4573,0.959],[4578,1.107],[4583,0.801],[4589,0.968],[4598,1.176],[4605,0.84],[4614,1.323],[4619,0.909],[4626,1.284],[4633,0.929],[4638,1.215],[4645,1.353],[4653,0.771],[4660,1.077],[4666,0.85],[4673,1.107],[4680,0.929],[4688,1.166],[4696,1.264],[4701,0.82],[4708,1.097],[4715,0.781],[4723,1.274],[4731,1.008],[4738,0.811],[4746,0.801],[4751,1.195],[4758,1.205],[4765,1.008],[4771,0.751],[4776,1.126],[4781,0.761],[4788,1.008],[4793,1.274],[4800,1.323],[4806,0.89],[4813,1.323],[4820,0.751],[4826,1.116],[4833,0.85],[4841,1.067],[4848,0.811],[4856,0.909],[4863,0.594],[4870,0.929],[4876,1.146],[4883,1.166],[4888,0.87],[4896,1.25],[4903,0.87],[4908,1.264],[4916,0.968],[4923,1.126],[4931,1.235],[4938,0.761],[4948,1.333],[4953,0.929],[4961,1.097],[4966,0.89],[4972,1.235],[4978,0.949],[4986,1.166],[4992,1.176],[4998,0.89],[5005,1.255],[5011,0.801],[5018,1.126],[5023,1.195],[5031,1.166],[5036,0.87],[5043,1.195],[5051,1.235],[5058,0.998],[5063,1.195],[5071,0.968],[5078,1.126],[5083,0.949],[5091,1.176],[5099,1.264],[5104,0.968],[5114,1.274],[5122,1.235],[5128,1.116],[5133,0.899],[5141,1.136],[5147,1.343],[5156,1.126],[5163,1.363],[5168,0.968],[5176,1.047],[5183,1.343],[5191,1.304],[5199,1.264],[5206,0.811],[5214,1.235],[5221,1.314],[5229,1.077],[5234,1.008],[5241,1.284],[5249,1.107],[5257,1.353],[5264,1.057],[5271,1.245],[5276,0.998],[5284,1.333],[5291,1.294],[5295,0.978],[5299,1.136]];
const jc15Model = [[3798,0.525],[3803,0.633],[3810,0.673],[3818,0.633],[3823,0.604],[3828,0.544],[3831,0.47],[3835,0.406],[3839,0.50],[3843,0.653],[3850,0.702],[3855,0.712],[3860,0.643],[3866,0.732],[3873,0.643],[3880,0.633],[3885,0.55],[3889,0.465],[3893,0.56],[3898,0.673],[3904,0.692],[3911,0.771],[3920,0.702],[3925,0.682],[3929,0.50],[3931,0.40],[3934,0.288],[3937,0.40],[3940,0.55],[3943,0.663],[3948,0.732],[3954,0.751],[3961,0.702],[3965,0.50],[3969,0.253],[3973,0.45],[3978,0.732],[3985,0.791],[3993,0.84],[3998,0.801],[4003,0.85],[4008,0.811],[4014,0.86],[4023,0.875],[4030,0.821],[4038,0.909],[4045,0.811],[4050,0.899],[4058,0.87],[4064,0.821],[4070,0.875],[4078,0.811],[4088,0.89],[4095,0.732],[4098,0.65],[4101,0.584],[4104,0.66],[4108,0.781],[4115,0.885],[4125,0.885],[4134,0.85],[4139,0.919],[4146,0.85],[4155,0.88],[4163,0.929],[4173,0.84],[4183,0.899],[4190,0.899],[4199,0.85],[4210,0.924],[4218,0.89],[4228,0.786],[4235,0.899],[4243,0.924],[4249,0.87],[4255,0.909],[4264,0.949],[4273,0.83],[4278,0.914],[4286,0.88],[4293,0.811],[4300,0.732],[4308,0.732],[4317,0.959],[4324,0.821],[4331,0.919],[4336,0.78],[4341,0.623],[4345,0.76],[4348,0.86],[4356,0.939],[4366,0.978],[4373,0.919],[4381,0.959],[4386,0.86],[4393,0.939],[4401,0.959],[4407,0.919],[4413,0.993],[4423,0.988],[4431,0.949],[4440,1.008],[4448,0.988],[4456,0.939],[4466,0.968],[4476,1.033],[4482,0.978],[4488,1.023],[4496,0.998],[4507,1.062],[4516,1.028],[4526,0.968],[4535,0.99],[4541,1.042],[4548,0.978],[4558,1.037],[4570,1.037],[4583,0.998],[4595,1.028],[4610,1.052],[4623,1.047],[4635,1.037],[4650,1.018],[4660,1.057],[4669,0.988],[4683,1.033],[4695,1.052],[4708,1.008],[4723,1.057],[4733,1.028],[4751,1.057],[4766,1.008],[4778,1.047],[4788,1.023],[4798,1.057],[4808,1.037],[4818,1.057],[4831,1.028],[4843,1.023],[4853,0.949],[4858,0.86],[4862,0.791],[4866,0.87],[4870,0.959],[4881,1.028],[4891,1.008],[4898,1.072],[4908,1.062],[4921,0.998],[4931,1.072],[4941,1.028],[4951,1.082],[4961,1.028],[4976,1.077],[4986,1.018],[4996,1.067],[5008,1.033],[5016,1.023],[5033,1.082],[5043,1.028],[5058,1.097],[5073,1.082],[5086,1.057],[5096,1.107],[5106,1.077],[5118,1.121],[5128,1.082],[5143,1.107],[5153,1.097],[5161,1.136],[5166,1.08],[5170,1.037],[5175,1.09],[5179,1.126],[5189,1.126],[5201,1.146],[5209,1.107],[5221,1.171],[5229,1.126],[5244,1.19],[5256,1.166],[5264,1.195],[5270,1.126],[5281,1.19],[5291,1.225],[5299,1.185]];

const xTicks = [3800, 4000, 4200, 4400, 4600, 4800, 5000, 5200];
const featureWaves = [4863, 5015, 5174, 5272];
const featureNames = ['H{g|β}', 'Fe5015', 'Mgb', 'Fe5270'];
const maskEnd = 4844;

// per-panel setup: names, y range, ticks
const panels = [
  { name: 'C1', obs: c1Obs, model: c1Model, yMin: 0.155, yMax: 1.30, yTicks: [0.5, 1.0], labelBase: 478 },
  { name: 'C4', obs: c4Obs, model: c4Model, yMin: 0.555, yMax: 1.30, yTicks: [0.6, 0.8, 1.0, 1.2], labelBase: 1014, masked: true },
  { name: 'D6', obs: d6Obs, model: d6Model, yMin: 0.555, yMax: 1.30, yTicks: [0.6, 0.8, 1.0, 1.2], labelBase: 1542, masked: true },
  { name: 'F1', obs: f1Obs, model: f1Model, yMin: 0.15, yMax: 1.30, yTicks: [0.5, 1.0], labelBase: 2062 },
  { name: 'F16', obs: f16Obs, model: f16Model, yMin: 0.052, yMax: 1.298, yTicks: [0.5, 1.0], labelBase: 2577 },
  { name: 'JD1', obs: jd1Obs, model: jd1Model, yMin: 0.154, yMax: 1.30, yTicks: [0.5, 1.0], labelBase: 3117 },
  { name: 'JC15', obs: jc15Obs, model: jc15Model, yMin: 0.15, yMax: 1.407, yTicks: [0.5, 1.0], labelBase: 3654 }
];

const TOP = 64, H = 528, LEFT = 262, RIGHT = 42;
const SANS = '"DejaVu Sans", sans-serif';
const SERIF = '"DejaVu Serif", serif';
const last = panels.length - 1;

const grids = [], xAxes = [], yAxes = [], series = [];
panels.forEach((p, i) => {
  grids.push({ left: LEFT, right: RIGHT, top: TOP + i * H, height: H, show: true,
    borderColor: '#000', borderWidth: 3.3, backgroundColor: 'transparent' });
  xAxes.push({
    type: 'value', gridIndex: i, min: 3780, max: 5300,
    axisLine: { show: false }, splitLine: { show: false },
    axisTick: { show: i === last, customValues: xTicks, length: 15, lineStyle: { color: '#000', width: 3.3 } },
    axisLabel: { show: i === last, customValues: xTicks, margin: 34, color: '#000', fontSize: 54, fontFamily: SANS,
      formatter: v => String(Math.round(v)) }
  });
  yAxes.push({
    type: 'value', gridIndex: i, min: p.yMin, max: p.yMax,
    axisLine: { show: false }, splitLine: { show: false },
    axisTick: { show: true, customValues: p.yTicks, length: 15, lineStyle: { color: '#000', width: 3.3 } },
    axisLabel: { customValues: p.yTicks, margin: 30, color: '#000', fontSize: 54, fontFamily: SANS,
      formatter: v => v.toFixed(1) }
  });
  const obsSeries = {
    type: 'line', name: p.name + ' data', xAxisIndex: i, yAxisIndex: i, data: p.obs,
    showSymbol: false, silent: true, z: 2,
    lineStyle: { color: '#000', width: 14, join: 'round', cap: 'square' },
    markLine: {
      silent: true, z: 1, symbol: ['none', 'none'], label: { show: false },
      lineStyle: { color: '#708090', width: 4.2, type: [15.4, 6.7] },
      data: featureWaves.map(w => ({ xAxis: w }))
    }
  };
  if (p.masked) {
    obsSeries.markArea = { silent: true, z: 1, itemStyle: { color: '#d3d3d3' },
      data: [[{ xAxis: 3780 }, { xAxis: maskEnd }]] };
  }
  series.push(obsSeries);
  series.push({
    type: 'line', name: p.name + ' model', xAxisIndex: i, yAxisIndex: i, data: p.model,
    showSymbol: false, silent: true, z: 3,
    lineStyle: { color: '#ff00ff', width: 9, join: 'round', cap: 'square' }
  });
});

const chart = echarts.init(document.getElementById('chart'));
chart.setOption({
  animation: false,
  backgroundColor: '#fff',
  grid: grids, xAxis: xAxes, yAxis: yAxes, series: series
});

// text overlays: panel names, feature names, axis titles
const graphics = panels.map(p => ({
  type: 'text', x: 1221, y: p.labelBase - 22, z: 50,
  style: { text: p.name, font: 'bold 64px ' + SANS, fill: '#000',
    align: 'left', verticalAlign: 'middle', textAlign: 'left', textVerticalAlign: 'middle' }
}));
const featureBottoms = [553, 569, 578, 569];
const featureShift = [10, 5, 11, 6];
featureWaves.forEach((w, k) => {
  const px = chart.convertToPixel({ xAxisIndex: 0 }, w);
  graphics.push({
    type: 'text', x: px - featureShift[k], y: featureBottoms[k], rotation: Math.PI / 2, z: 50,
    style: { text: featureNames[k], font: 'bold 43px ' + SANS, fill: '#708090',
      rich: { g: { font: 'italic 43px ' + SANS, fill: '#708090' } },
      align: 'left', verticalAlign: 'bottom', textAlign: 'left', textVerticalAlign: 'bottom' }
  });
});
graphics.push({
  type: 'text', x: 64, y: TOP + panels.length * H / 2, rotation: Math.PI / 2, z: 50,
  style: { text: 'Normalized Flux', font: '90px ' + SERIF, fill: '#000',
    align: 'center', verticalAlign: 'middle', textAlign: 'center', textVerticalAlign: 'middle' }
});
graphics.push({
  type: 'text', x: LEFT + (2475 - LEFT - RIGHT) / 2, y: 3937, z: 50,
  style: { text: 'Wavelength ({i|Å})', font: '90px ' + SERIF, fill: '#000',
    rich: { i: { font: 'italic 90px ' + SERIF, fill: '#000' } },
    align: 'center', verticalAlign: 'middle', textAlign: 'center', textVerticalAlign: 'middle' }
});
chart.setOption({ graphic: graphics });
</script>
</body>
</html>
